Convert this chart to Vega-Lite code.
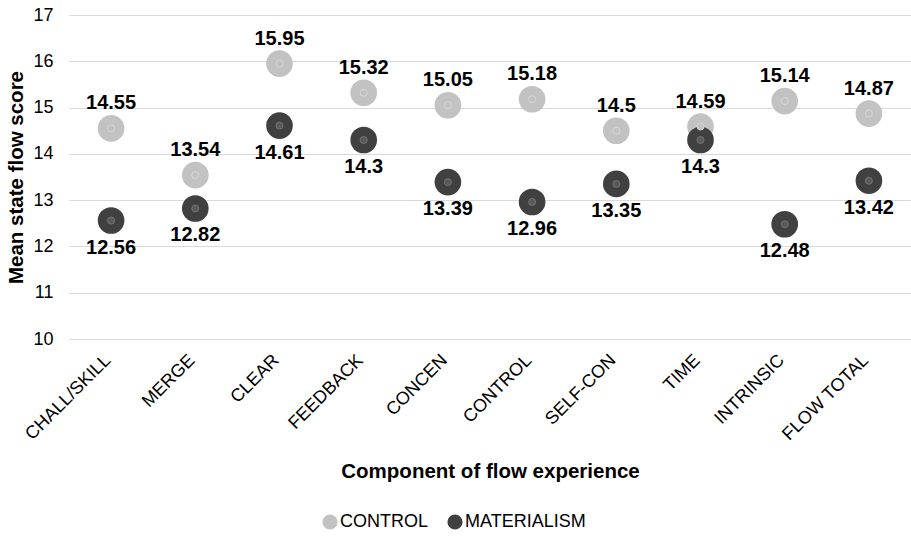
{
  "$schema": "https://vega.github.io/schema/vega-lite/v6.json",
  "width": 842,
  "height": 324,
  "autosize": "none",
  "padding": {"left": 69, "top": 15, "right": 0, "bottom": 199},
  "background": "white",
  "config": {
    "font": "Liberation Sans",
    "view": {"stroke": null}
  },
  "data": {
    "values": [
      {"component": "CHALL/SKILL", "group": "CONTROL", "score": 14.55},
      {"component": "MERGE", "group": "CONTROL", "score": 13.54},
      {"component": "CLEAR", "group": "CONTROL", "score": 15.95},
      {"component": "FEEDBACK", "group": "CONTROL", "score": 15.32},
      {"component": "CONCEN", "group": "CONTROL", "score": 15.05},
      {"component": "CONTROL", "group": "CONTROL", "score": 15.18},
      {"component": "SELF-CON", "group": "CONTROL", "score": 14.5},
      {"component": "TIME", "group": "CONTROL", "score": 14.59},
      {"component": "INTRINSIC", "group": "CONTROL", "score": 15.14},
      {"component": "FLOW TOTAL", "group": "CONTROL", "score": 14.87},
      {"component": "CHALL/SKILL", "group": "MATERIALISM", "score": 12.56},
      {"component": "MERGE", "group": "MATERIALISM", "score": 12.82},
      {"component": "CLEAR", "group": "MATERIALISM", "score": 14.61},
      {"component": "FEEDBACK", "group": "MATERIALISM", "score": 14.3},
      {"component": "CONCEN", "group": "MATERIALISM", "score": 13.39},
      {"component": "CONTROL", "group": "MATERIALISM", "score": 12.96},
      {"component": "SELF-CON", "group": "MATERIALISM", "score": 13.35},
      {"component": "TIME", "group": "MATERIALISM", "score": 14.3},
      {"component": "INTRINSIC", "group": "MATERIALISM", "score": 12.48},
      {"component": "FLOW TOTAL", "group": "MATERIALISM", "score": 13.42}
    ]
  },
  "encoding": {
    "x": {
      "field": "component",
      "type": "nominal",
      "sort": null,
      "scale": {"type": "point", "padding": 0.5},
      "axis": {
        "title": "Component of flow experience",
        "titleFontSize": 20.5,
        "titleFontWeight": "bold",
        "titleColor": "#000000",
        "titlePadding": 18,
        "labelAngle": -45,
        "labelFontSize": 18,
        "labelColor": "#000000",
        "labelPadding": 12,
        "labelOffset": -10,
        "domain": false,
        "ticks": false,
        "grid": false
      }
    },
    "y": {
      "field": "score",
      "type": "quantitative",
      "scale": {"domain": [10, 17], "nice": false, "zero": false},
      "axis": {
        "title": "Mean state flow score",
        "titleFontSize": 20.5,
        "titleFontWeight": "bold",
        "titleColor": "#000000",
        "titlePadding": 6,
        "values": [10, 11, 12, 13, 14, 15, 16, 17],
        "labelFontSize": 18,
        "labelColor": "#000000",
        "labelPadding": 16,
        "domain": false,
        "ticks": false,
        "grid": true,
        "gridColor": "#d9d9d9",
        "gridWidth": 1
      }
    }
  },
  "layer": [
    {
      "mark": {"type": "circle", "size": 710, "opacity": 1},
      "encoding": {
        "color": {
          "field": "group",
          "type": "nominal",
          "scale": {"domain": ["CONTROL", "MATERIALISM"], "range": ["#c2c2c2", "#404040"]},
          "legend": {
            "title": null,
            "orient": "none",
            "legendX": 252,
            "legendY": 498,
            "direction": "horizontal",
            "symbolType": "circle",
            "symbolSize": 230,
            "symbolOpacity": 1,
            "labelFontSize": 18,
            "labelColor": "#000000",
            "labelOffset": 1,
            "columnPadding": 17
          }
        }
      }
    },
    {
      "mark": {"type": "circle", "size": 50, "opacity": 1, "strokeWidth": 0.8},
      "encoding": {
        "color": {
          "field": "group",
          "type": "nominal",
          "scale": {"domain": ["CONTROL", "MATERIALISM"], "range": ["#c2c2c2", "#5a5a5a"]},
          "legend": null
        },
        "stroke": {
          "field": "group",
          "type": "nominal",
          "scale": {"domain": ["CONTROL", "MATERIALISM"], "range": ["#dadada", "#7a7a7a"]},
          "legend": null
        }
      }
    },
    {
      "transform": [{"filter": "datum.group == 'CONTROL'"}],
      "mark": {"type": "text", "dy": -25, "baseline": "middle", "fontSize": 20, "fontWeight": "bold", "color": "#000000"},
      "encoding": {"text": {"field": "score", "type": "quantitative"}}
    },
    {
      "transform": [{"filter": "datum.group == 'MATERIALISM'"}],
      "mark": {"type": "text", "dy": 27, "baseline": "middle", "fontSize": 20, "fontWeight": "bold", "color": "#000000"},
      "encoding": {"text": {"field": "score", "type": "quantitative"}}
    }
  ],
  "resolve": {"scale": {"color": "independent"}}
}
